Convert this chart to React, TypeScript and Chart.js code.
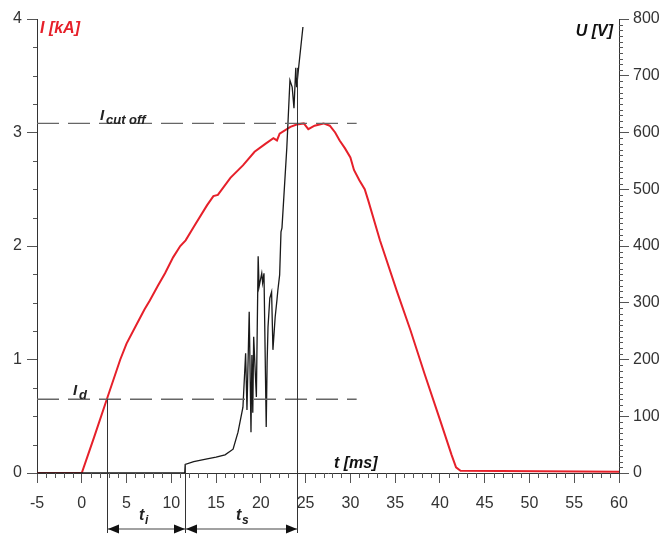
import { useEffect, useRef } from "react";
import { Chart, registerables } from "chart.js";

Chart.register(...registerables);

// Current I [kA] (red, left axis) vs time t [ms]
const currentT = [-5, 0, 1.4, 2.8, 4.3, 5.0, 6.0, 7.0, 7.6, 8.5, 9.3, 10.2, 11.0, 11.6, 12.6, 14.0, 14.7, 15.2, 16.6, 18.0, 19.3, 20.5, 21.4, 21.8, 22.1, 23.3, 24.0, 24.8, 25.3, 26.0, 27.0, 27.7, 28.3, 28.8, 29.4, 30.0, 30.4, 31.0, 31.6, 32.0, 33.3, 35.2, 36.7, 38.3, 40.0, 41.3, 41.8, 42.3, 60];
const currentKA = [0, 0, 0.32, 0.65, 1.0, 1.14, 1.29, 1.44, 1.52, 1.65, 1.76, 1.9, 2.0, 2.05, 2.18, 2.36, 2.44, 2.45, 2.6, 2.71, 2.83, 2.9, 2.95, 2.93, 2.99, 3.05, 3.07, 3.08, 3.03, 3.06, 3.08, 3.06, 3.0, 2.93, 2.86, 2.78, 2.67, 2.58, 2.5, 2.4, 2.05, 1.6, 1.26, 0.87, 0.47, 0.16, 0.05, 0.02, 0.01];

// Voltage U [V] (black, right axis) vs time t [ms]
const voltageT = [-5, 11.5, 11.55, 12.5, 14.0, 15.0, 16.0, 16.9, 17.45, 18.0, 18.3, 18.45, 18.7, 18.9, 19.0, 19.1, 19.2, 19.5, 19.7, 19.8, 20.1, 20.2, 20.35, 20.6, 20.7, 20.8, 21.0, 21.2, 21.35, 21.6, 21.8, 21.9, 22.1, 22.25, 22.36, 22.9, 23.25, 23.5, 23.7, 23.9, 24.0, 24.25, 24.7];
const voltageV = [0, 0, 15, 20, 25, 28, 32, 42, 72, 116, 211, 111, 284, 72, 208, 106, 240, 134, 382, 328, 352, 335, 352, 81, 194, 257, 308, 319, 217, 275, 305, 322, 349, 425, 432, 573, 692, 680, 643, 714, 680, 719, 786];

// Annotation values
const I_CUTOFF = 3.08;
const I_D = 0.65;
const T_D = 2.8;
const T_I_END = 11.5;
const T_S_END = 24.05;
const U_AT_TI = 16;
const U_AT_TS = 714;
const T_DASH_START = -5;
const T_DASH_END = 30.7;

const FONT = '"Liberation Sans", Arial, Helvetica, sans-serif';
const RED = "#e6202a";

const overlay = {
  id: "overlay",
  afterDraw(chart: any) {
    const { ctx, chartArea } = chart;
    const { x, y, y1 } = chart.scales;
    const X = (v: number) => x.getPixelForValue(v);
    const Y = (v: number) => y.getPixelForValue(v);
    const Y1 = (v: number) => y1.getPixelForValue(v);
    const { left, right, bottom } = chartArea;
    ctx.save();

    // minor ticks
    ctx.strokeStyle = "#555";
    ctx.lineWidth = 1;
    ctx.beginPath();
    for (let t = -5; t <= 60; t++) {
      if (t % 5 === 0) continue;
      const px = Math.round(X(t)) + 0.5;
      ctx.moveTo(px, bottom);
      ctx.lineTo(px, bottom + 5);
    }
    for (let i = 0; i <= 16; i++) {
      if (i % 4 === 0) continue;
      const py = Math.round(Y(i / 4)) + 0.5;
      ctx.moveTo(left - 4, py);
      ctx.lineTo(left, py);
    }
    for (let u = 0; u <= 800; u += 10) {
      if (u % 100 === 0) continue;
      const py = Math.round(Y1(u)) + 0.5;
      ctx.moveTo(right, py);
      ctx.lineTo(right + 4, py);
    }
    ctx.stroke();

    // dashed lines
    ctx.strokeStyle = "#666";
    ctx.lineWidth = 1.3;
    ctx.setLineDash([22, 9]);
    ctx.beginPath();
    ctx.moveTo(X(T_DASH_START), Y(I_CUTOFF));
    ctx.lineTo(X(T_DASH_END), Y(I_CUTOFF));
    ctx.moveTo(X(T_DASH_START), Y(I_D));
    ctx.lineTo(X(T_DASH_END), Y(I_D));
    ctx.stroke();
    ctx.setLineDash([]);

    // vertical lines
    const yEnd = 533;
    ctx.strokeStyle = "#333";
    ctx.lineWidth = 1;
    ctx.beginPath();
    const xd = Math.round(X(T_D)) + 0.5;
    const xi = Math.round(X(T_I_END)) + 0.5;
    const xs = Math.round(X(T_S_END)) + 0.5;
    ctx.moveTo(xd, Y(I_D));
    ctx.lineTo(xd, yEnd);
    ctx.moveTo(xi, Y1(U_AT_TI));
    ctx.lineTo(xi, yEnd);
    ctx.moveTo(xs, Y1(U_AT_TS));
    ctx.lineTo(xs, yEnd);
    ctx.stroke();

    // arrows
    const ya = 529;
    ctx.strokeStyle = "#444";
    ctx.lineWidth = 1.2;
    ctx.beginPath();
    ctx.moveTo(xd, ya);
    ctx.lineTo(xs, ya);
    ctx.stroke();
    ctx.fillStyle = "#111";
    const head = (px: number, dir: number) => {
      ctx.beginPath();
      ctx.moveTo(px, ya);
      ctx.lineTo(px - dir * 11, ya - 4.5);
      ctx.lineTo(px - dir * 11, ya + 4.5);
      ctx.closePath();
      ctx.fill();
    };
    head(xd + 0.5, -1);
    head(xi - 0.5, 1);
    head(xi + 0.5, -1);
    head(xs - 0.5, 1);

    // texts
    ctx.textBaseline = "alphabetic";
    ctx.textAlign = "left";
    ctx.fillStyle = RED;
    ctx.font = `italic bold 16px ${FONT}`;
    ctx.fillText("I [kA]", 40, 33);
    ctx.fillStyle = "#111";
    ctx.textAlign = "right";
    ctx.fillText("U [V]", 613, 36);
    ctx.textAlign = "left";
    ctx.fillText("t [ms]", 334, 468);

    // I cut off
    ctx.font = `italic bold 15px ${FONT}`;
    ctx.fillStyle = "#222";
    ctx.fillText("I", 100, 120);
    ctx.font = `italic bold 13px ${FONT}`;
    ctx.fillText("cut off", 106, 124);
    // I d
    ctx.font = `italic bold 15px ${FONT}`;
    ctx.fillText("I", 73, 395);
    ctx.font = `italic bold 13px ${FONT}`;
    ctx.fillText("d", 79, 399);
    // t_i, t_s
    ctx.font = `italic bold 16px ${FONT}`;
    ctx.fillText("t", 139, 520);
    ctx.fillText("t", 236, 520);
    ctx.font = `italic bold 12px ${FONT}`;
    ctx.fillText("i", 145, 524);
    ctx.fillText("s", 242, 524);

    ctx.restore();
  },
};

export default function App() {
  const ref = useRef<HTMLCanvasElement>(null);
  useEffect(() => {
    if (!ref.current) return;
    const tickFont = { family: FONT, size: 16 };
    const chart = new Chart(ref.current, {
      type: "line",
      data: {
        datasets: [
          {
            label: "U [V]",
            data: voltageT.map((t, i) => ({ x: t, y: voltageV[i] })),
            yAxisID: "y1",
            borderColor: "#1a1a1a",
            borderWidth: 1.3,
            pointRadius: 0,
            tension: 0,
          },
          {
            label: "I [kA]",
            data: currentT.map((t, i) => ({ x: t, y: currentKA[i] })),
            yAxisID: "y",
            borderColor: RED,
            borderWidth: 2,
            pointRadius: 0,
            tension: 0,
          },
        ],
      },
      options: {
        responsive: false,
        animation: false,
        layout: { padding: { top: 19, left: 0, right: 0, bottom: 0 } },
        plugins: { legend: { display: false }, tooltip: { enabled: false } },
        scales: {
          x: {
            type: "linear",
            position: "bottom",
            min: -5,
            max: 60,
            ticks: { stepSize: 5, autoSkip: false, maxRotation: 0, color: "#333", font: tickFont, padding: 11 },
            grid: { drawOnChartArea: false, drawTicks: true, tickLength: 10, color: "#555" },
            border: { color: "#333", width: 1 },
            afterFit: (s: any) => { s.height = 61; },
          },
          y: {
            type: "linear",
            position: "left",
            min: 0,
            max: 4,
            ticks: { stepSize: 1, color: "#333", font: tickFont, padding: 5 },
            grid: { drawOnChartArea: false, drawTicks: true, tickLength: 10, color: "#555" },
            border: { color: "#333", width: 1 },
            afterFit: (s: any) => { s.width = 37; },
          },
          y1: {
            type: "linear",
            position: "right",
            min: 0,
            max: 800,
            ticks: { stepSize: 100, color: "#333", font: tickFont, padding: 4 },
            grid: { drawOnChartArea: false, drawTicks: true, tickLength: 10, color: "#555" },
            border: { color: "#333", width: 1 },
            afterFit: (s: any) => { s.width = 47; },
          },
        },
      },
      plugins: [overlay],
    });
    return () => chart.destroy();
  }, []);
  return (
    <div style={{ position: "absolute", left: 0, top: 0, width: 666, height: 534, background: "#fff" }}>
      <canvas ref={ref} width={666} height={534} />
    </div>
  );
}
